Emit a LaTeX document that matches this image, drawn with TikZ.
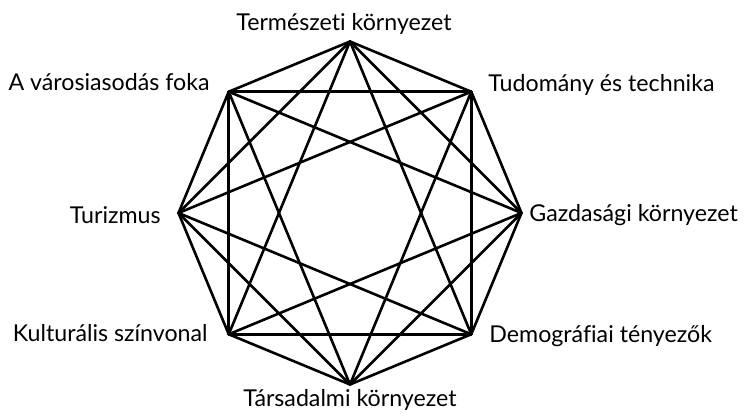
\documentclass[tikz,border=0pt]{standalone}
\usepackage{fontspec}
\setmainfont{Lato}[Ligatures=NoCommon]
\usepackage{tikz}
\usetikzlibrary{positioning}
\tikzset{
    lbl/.style={font=\fontsize{11.6}{13}\selectfont, inner sep=0pt},
    edge/.style={line width=1.3pt, line cap=round, line join=round}
}

\begin{document}
\begin{tikzpicture}[x=0.5pt, y=-0.5pt]
    \useasboundingbox (0,0) rectangle (752,416);

    % Octagon corners, counted clockwise from the top
    \foreach \i/\a in {1/90, 2/45, 3/0, 4/-45, 5/-90, 6/-135, 7/180, 8/135} {
        \coordinate (v\i) at ({350+171.5*cos(\a)},{213-171.5*sin(\a)});
    }

    % Every pair of corners except the four diameters
    \foreach \i in {1,...,8} {
        \foreach \k in {1,2,3} {
            \pgfmathtruncatemacro{\j}{mod(\i+\k-1,8)+1}
            \draw[edge] (v\i) -- (v\j);
        }
    }

    % Labels
    \node[lbl, anchor=base] (termeszet) at (344,31) {Természeti környezet};
    \node[lbl, anchor=base west] (tudomany) at (488,92) {Tudomány és technika};
    \node[lbl, anchor=base west] (gazdasag) at (529,222) {Gazdasági környezet};
    \node[lbl, anchor=base west] (demografia) at (489,343) {Demográfiai tényezők};
    \node[lbl, anchor=base] (tarsadalom) at (350,407) {Társadalmi környezet};
    \node[lbl, anchor=base east] (kultura) at (208,342) {Kulturális színvonal};
    \node[lbl, anchor=base east] (turizmus) at (161,224) {Turizmus};
    \node[lbl, anchor=base east] (varos) at (210,91) {A városiasodás foka};

\end{tikzpicture}
\end{document}
